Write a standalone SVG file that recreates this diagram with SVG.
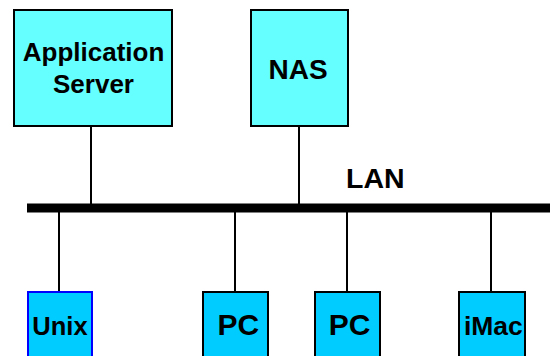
<svg xmlns="http://www.w3.org/2000/svg" width="550" height="356" viewBox="0 0 550 356">
  <style>
    .lbl { font-family: "Liberation Sans", Arial, sans-serif; font-weight: bold; fill: #000; text-anchor: middle; }
    .server { fill: #66FFFF; stroke: #000; stroke-width: 2; }
    .client { fill: #00CCFF; stroke: #000; stroke-width: 2; }
    .wire { stroke: #000; stroke-width: 2; fill: none; }
  </style>
  <rect width="550" height="356" fill="#fff"/>

  <!-- connectors: LAN bus and drops -->
  <g id="connectors">
    <rect id="lan-bus" x="27" y="203.5" width="523" height="9" fill="#000"/>
    <line class="wire" x1="91" y1="127" x2="91" y2="204"/>
    <line class="wire" x1="299" y1="127" x2="299" y2="204"/>
    <line class="wire" x1="59" y1="212" x2="59" y2="291"/>
    <line class="wire" x1="235" y1="212" x2="235" y2="291"/>
    <line class="wire" x1="347" y1="212" x2="347" y2="291"/>
    <line class="wire" x1="491" y1="212" x2="491" y2="291"/>
  </g>

  <text id="lan-label" class="lbl" x="346" y="188" font-size="28.5" style="text-anchor:start">LAN</text>

  <g id="app-server">
    <rect class="server" x="14" y="10" width="158" height="116"/>
    <text class="lbl" x="93.5" y="61" font-size="26">Application</text>
    <text class="lbl" x="93.5" y="93" font-size="26">Server</text>
  </g>

  <g id="nas">
    <rect class="server" x="251" y="10" width="97" height="116"/>
    <text class="lbl" x="298" y="79" font-size="28">NAS</text>
  </g>

  <g id="unix">
    <rect class="client" x="28" y="292" width="64" height="80" style="stroke:#0000FF"/>
    <text class="lbl" x="60" y="335" font-size="25.5">Unix</text>
  </g>

  <g id="pc1">
    <rect class="client" x="203" y="292" width="65" height="80"/>
    <text class="lbl" x="238.3" y="335" font-size="30">PC</text>
  </g>

  <g id="pc2">
    <rect class="client" x="315" y="292" width="65" height="80"/>
    <text class="lbl" x="349.7" y="335" font-size="30">PC</text>
  </g>

  <g id="imac">
    <rect class="client" x="459" y="292" width="66" height="80"/>
    <text class="lbl" x="493.4" y="334.5" font-size="26.5">iMac</text>
  </g>
</svg>
